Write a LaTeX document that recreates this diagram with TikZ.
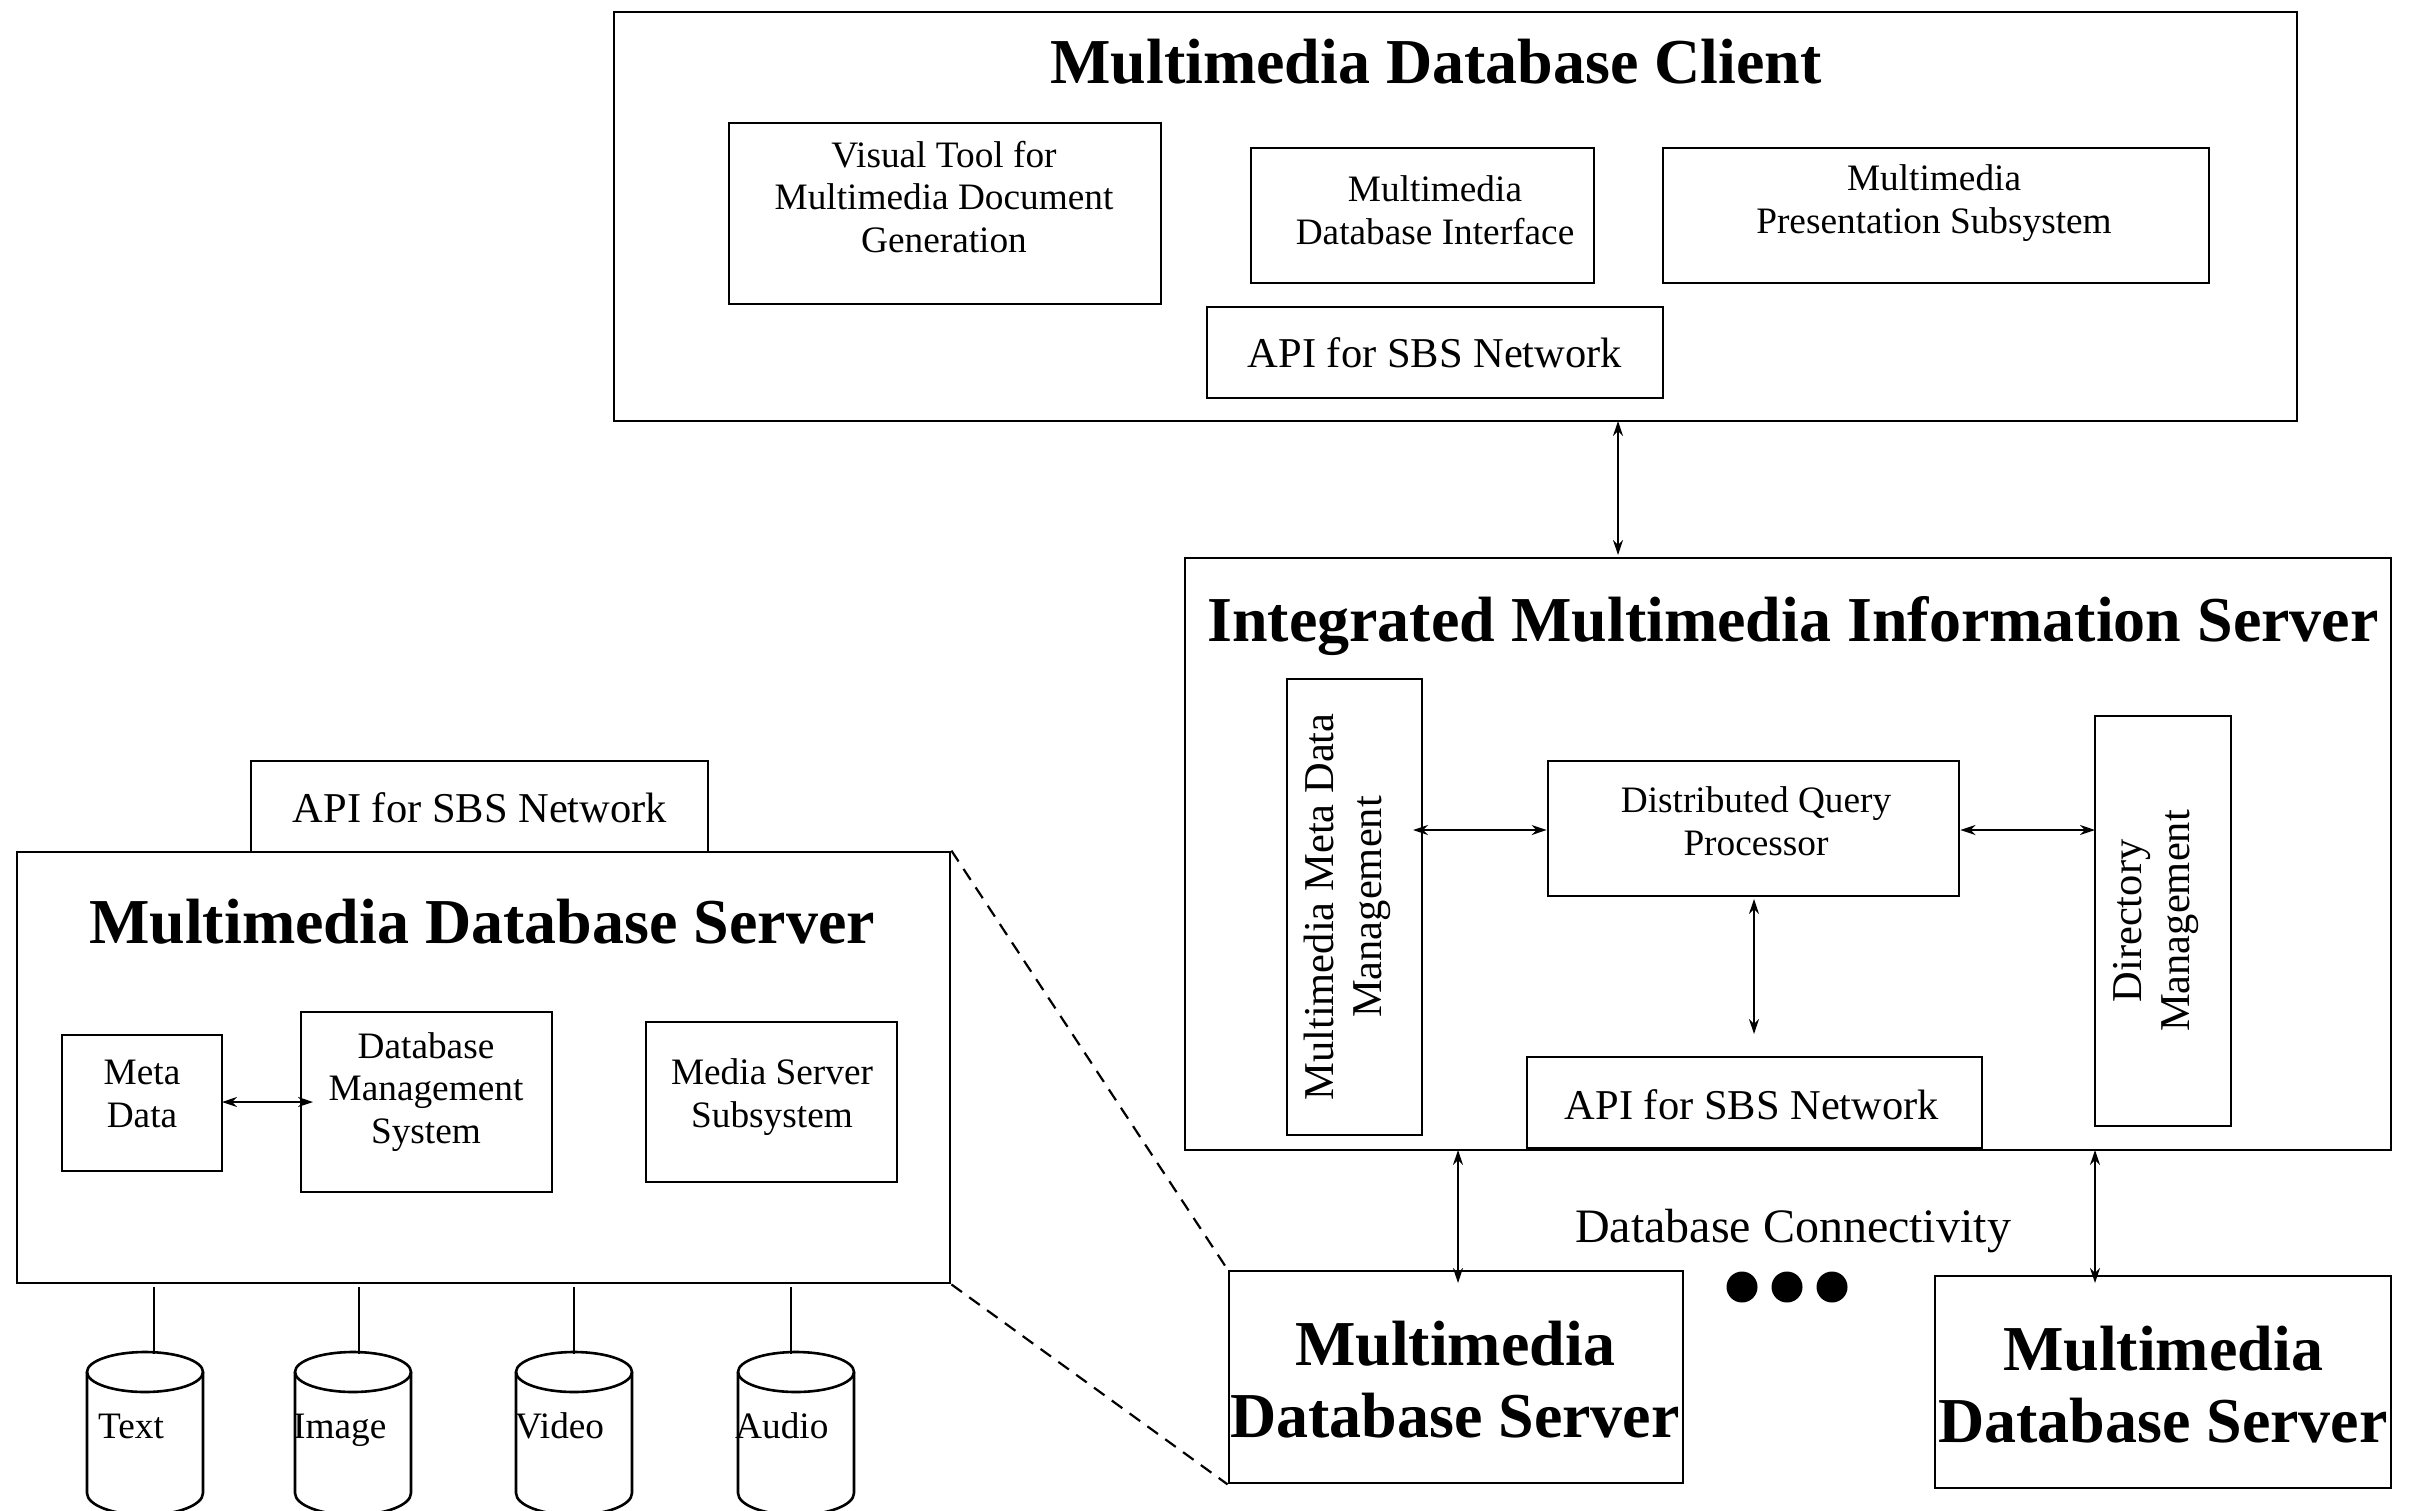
\documentclass[tikz,border=0pt]{standalone}
\usepackage{fontspec}
\setmainfont{Liberation Serif}
\usetikzlibrary{arrows.meta}
\tikzset{
  boxnode/.style={draw=black,line width=2.8pt,inner sep=0pt},
  small/.style={align=center,inner sep=0pt,font=\fontsize{37.3}{42.5}\selectfont},
  mid/.style={align=center,inner sep=0pt,font=\fontsize{42.5}{48}\selectfont},
  big/.style={align=center,inner sep=0pt,font=\fontsize{48}{54}\selectfont},
  head/.style={align=center,inner sep=0pt,font=\fontsize{64}{72}\selectfont\bfseries},
  link/.style={line width=2.2pt,{Stealth[length=15pt,width=10pt]}-{Stealth[length=15pt,width=10pt]}},
  plain/.style={line width=2.2pt,shorten <=3pt},
  dashline/.style={line width=2.2pt,dash pattern=on 13pt off 9pt},
  cylline/.style={line width=2.6pt},
  dotnode/.style={circle,fill=black,draw=none,minimum size=31pt,inner sep=0pt}
}
\newcommand{\rbox}[5]{% name, x0, y0, x1, y1
  \path (#2,#3) coordinate (#1-a) (#4,#5) coordinate (#1-b);
  \node[boxnode,minimum width=#4pt-#2pt,minimum height=#5pt-#3pt] (#1) at ({(#2+#4)/2},{(#3+#5)/2}) {};
}
\newcommand{\cylshape}[2]{% name, centre x
  \coordinate (#1) at (#2,1372);
  \draw[cylline,fill=white] (#2-58,1372) -- (#2-58,1493) arc[start angle=180,end angle=360,x radius=58,y radius=-22] -- (#2+58,1372);
  \draw[cylline] (#1) ellipse[x radius=58,y radius=20];
}
\begin{document}
\begin{tikzpicture}[x=1pt,y=-1pt]
\path[use as bounding box,fill=white] (0,0) rectangle (2419,1510);
\clip (0,0) rectangle (2419,1510);

% client
\rbox{client}{614}{12}{2297}{421}
\node[head] (clienttitle) at (1436,62) {Multimedia Database Client};
\rbox{visual}{729}{123}{1161}{304}
\node[small] (visualt) at (944,197) {Visual Tool for\\Multimedia Document\\Generation};
\rbox{mdi}{1251}{148}{1594}{283}
\node[small] (mdit) at (1435,210) {Multimedia\\Database Interface};
\rbox{pres}{1663}{148}{2209}{283}
\node[small] (prest) at (1934,203) {Multimedia\\Presentation Subsystem};
\rbox{capi}{1207}{307}{1663}{398}
\node[mid] (capit) at (1435,353) {API for SBS Network};

% integrated server
\rbox{imis}{1185}{558}{2391}{1150}
\node[head] (imistitle) at (1793,626) {Integrated Multimedia Information Server};
\rbox{meta}{1287}{679}{1422}{1135}
\node[mid,rotate=90] (metat) at (1347,907) {Multimedia Meta Data\\Management};
\rbox{dqp}{1548}{761}{1959}{896}
\node[small] (dqpt) at (1756,821) {Distributed Query\\Processor};
\rbox{dir}{2095}{716}{2231}{1126}
\node[mid,rotate=90] (dirt) at (2156,921) {Directory\\Management};
\rbox{iapi}{1527}{1057}{1982}{1148}
\node[mid] (iapit) at (1752,1105) {API for SBS Network};

% left server
\rbox{lapi}{251}{761}{708}{852}
\node[mid] (lapit) at (480,808) {API for SBS Network};
\rbox{srv}{17}{852}{950}{1283}
\node[head] (srvtitle) at (482,922) {Multimedia Database Server};
\rbox{md}{62}{1035}{222}{1171}
\node[small] (mdt) at (142,1094) {Meta\\Data};
\rbox{dbms}{301}{1012}{552}{1192}
\node[small] (dbmst) at (426,1092) {Database\\Management\\System};
\rbox{media}{646}{1022}{897}{1182}
\node[small] (mediat) at (772,1097) {Media Server\\Subsystem};

% bottom servers
\rbox{s1}{1229}{1271}{1683}{1483}
\node[head] (s1t) at (1455,1380) {Multimedia\\Database Server};
\rbox{s2}{1935}{1276}{2391}{1488}
\node[head] (s2t) at (2163,1385) {Multimedia\\Database Server};

\node[big] (dbc) at (1793,1231) {Database Connectivity};
\node[dotnode] (d1) at (1742,1287) {};
\node[dotnode] (d2) at (1787,1287) {};
\node[dotnode] (d3) at (1832,1287) {};

% cylinders
\cylshape{c1}{145}
\cylshape{c2}{353}
\cylshape{c3}{574}
\cylshape{c4}{796}
\node[small,anchor=base west] (c1t) at (98,1438) {Text};
\node[small,anchor=base west] (c2t) at (293,1438) {Image};
\node[small,anchor=base west] (c3t) at (515,1438) {Video};
\node[small,anchor=base west] (c4t) at (735,1438) {Audio};

% connectors
\coordinate (k1) at (154,1354);
\coordinate (k2) at (359,1354);
\coordinate (k3) at (574,1354);
\coordinate (k4) at (791,1354);
\draw[plain] (srv.south -| k1) -- (k1);
\draw[plain] (srv.south -| k2) -- (k2);
\draw[plain] (srv.south -| k3) -- (k3);
\draw[plain] (srv.south -| k4) -- (k4);

\coordinate (a1) at (1618,421);
\coordinate (a2) at (1618,555);
\draw[link] (a1) -- (a2);
\coordinate (m1) at (1413,830);
\draw[link] (m1) -- (dqp.west |- m1);
\coordinate (m2) at (2095,830);
\draw[link] (dqp.east |- m2) -- (m2);
\coordinate (m3) at (1754,899);
\coordinate (m4) at (1754,1034);
\draw[link] (m3) -- (m4);
\coordinate (m5) at (222,1102);
\coordinate (m6) at (313,1102);
\draw[link] (m5) -- (m6);
\coordinate (b1) at (1458,1150);
\coordinate (b2) at (1458,1283);
\draw[link] (b1) -- (b2);
\coordinate (b3) at (2095,1150);
\coordinate (b4) at (2095,1283);
\draw[link] (b3) -- (b4);

\draw[dashline] (srv.north east) -- (s1.north west);
\draw[dashline] (srv.south east) -- (s1.south west);
\end{tikzpicture}
\end{document}
